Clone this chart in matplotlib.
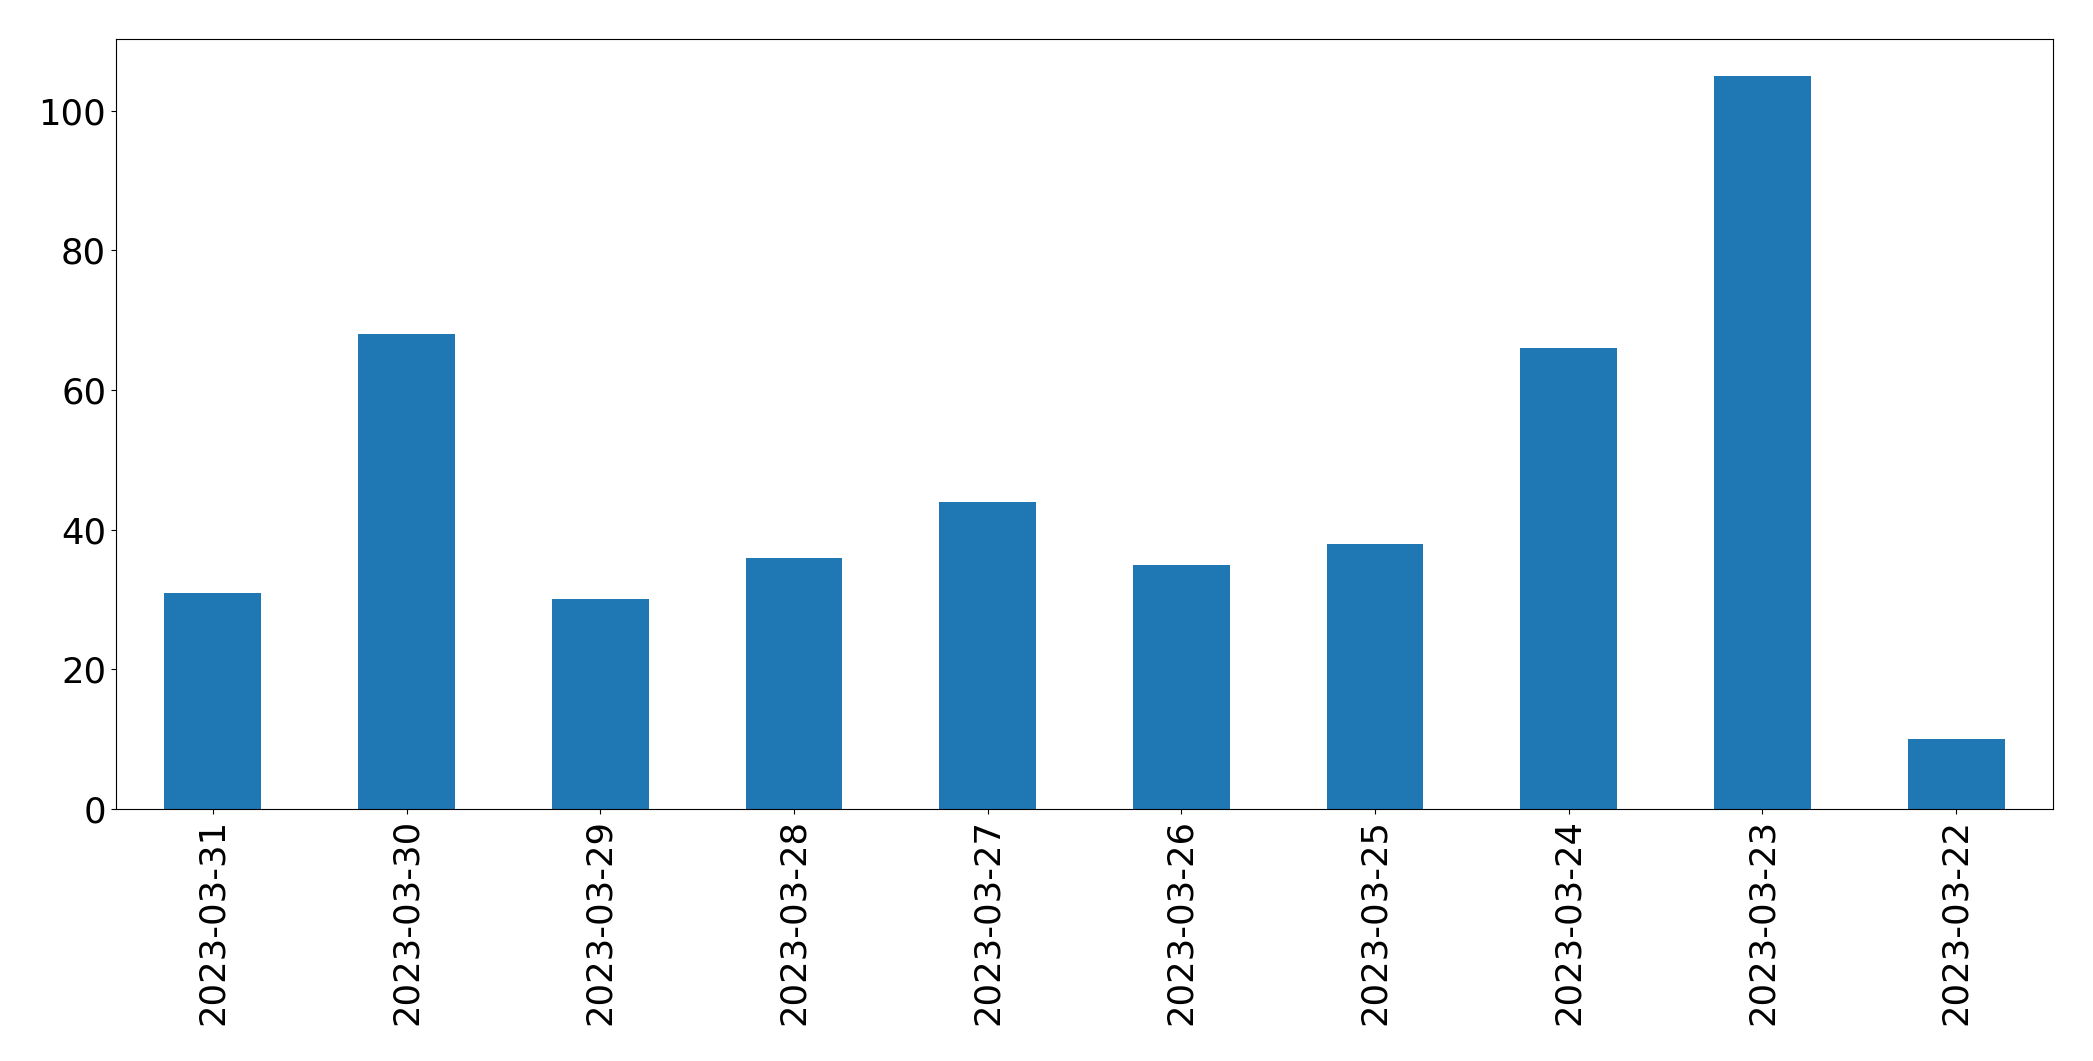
import numpy as np
import pandas as pd
import matplotlib
matplotlib.use("Agg")
import matplotlib.pyplot as plt

# -------------------------------
# Daten
# -------------------------------
dates = ["2023-03-31", "2023-03-30", "2023-03-29", "2023-03-28", "2023-03-27",
         "2023-03-26", "2023-03-25", "2023-03-24", "2023-03-23", "2023-03-22"]
counts = [31, 68, 30, 36, 44, 35, 38, 66, 105, 10]

# -------------------------------
# Plot
# -------------------------------
s = pd.Series(counts, index=dates)

fig, ax = plt.subplots(figsize=(20.93, 10.61), dpi=100)
s.plot(kind="bar", ax=ax, color="#1f77b4", fontsize=25.5)
ax.set_xlabel("")
fig.subplots_adjust(left=0.0554, right=0.9809, top=0.9632, bottom=0.2375)

plt.savefig("out.png", dpi=100)
